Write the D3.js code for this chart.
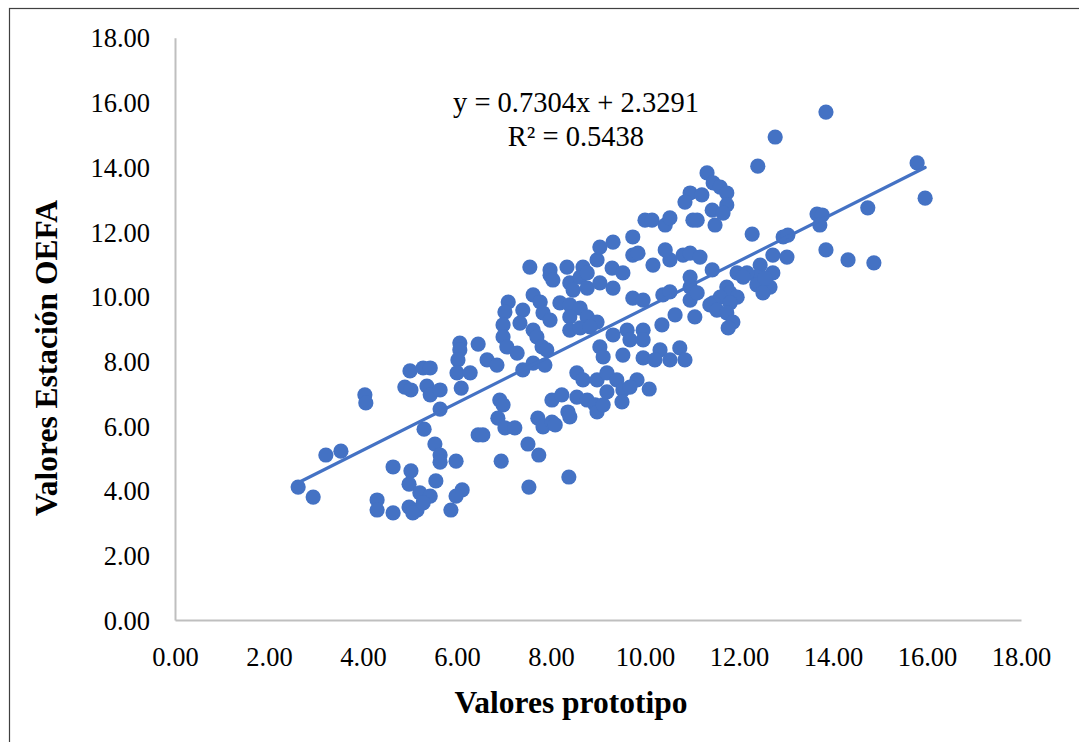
<!DOCTYPE html>
<html><head><meta charset="utf-8">
<script src="https://cdn.jsdelivr.net/npm/d3@7/dist/d3.min.js"></script>
<style>html,body{margin:0;padding:0;background:#fff;} svg{display:block;}</style>
</head><body>
<svg id="chart" width="1079" height="742"></svg>
<script>
const xTicks = [0,2,4,6,8,10,12,14,16,18];
const yTicks = [0,2,4,6,8,10,12,14,16,18];
const xTitle = "Valores prototipo";
const yTitle = "Valores Estación OEFA";
const eqLine1 = "y = 0.7304x + 2.3291";
const eqLine2 = "R² = 0.5438";
const slope = 0.7304, intercept = 2.3291;

const xs = [2.62,2.94,3.21,3.53,4.04,4.06,4.30,4.30,4.64,4.64,4.89,5.02,5.00,5.28,5.43,5.36,5.43,5.64,5.64,5.30,
5.53,5.64,5.64,5.98,5.02,4.98,5.55,5.21,5.43,4.98,5.15,5.06,5.28,6.11,5.98,5.87,6.06,6.06,6.02,6.00,
6.28,6.09,6.45,6.64,6.85,6.45,6.55,6.91,6.98,6.87,6.94,7.55,7.98,7.98,8.34,8.68,8.04,8.40,8.62,8.77,
8.47,8.77,9.04,9.32,8.98,9.04,9.30,9.53,9.32,9.74,9.85,9.74,9.96,7.09,7.02,7.62,7.77,7.40,7.83,8.19,
8.40,8.62,7.98,8.40,8.77,8.98,8.40,8.62,8.83,6.98,6.98,7.06,7.34,7.62,7.70,7.81,7.91,7.28,7.40,7.62,
7.87,9.32,9.62,9.68,9.96,9.96,9.04,9.11,9.53,9.96,8.55,8.68,8.98,9.19,9.40,9.83,7.02,7.23,7.51,7.74,
7.53,8.38,7.72,7.83,8.02,8.09,8.02,8.23,8.36,8.40,8.55,8.77,8.94,8.98,9.11,9.19,9.53,9.51,10.38,10.53,
10.96,10.96,10.96,11.06,10.64,10.36,10.32,10.53,10.74,10.85,10.09,9.68,10.17,10.53,10.43,10.81,10.96,11.17,11.32,12.40,
11.45,11.60,11.74,11.74,11.43,11.66,11.49,10.96,11.21,10.85,10.00,10.15,10.43,10.53,11.02,11.11,12.28,12.94,13.04,9.74,
11.43,12.72,13.02,11.96,12.45,12.38,12.72,12.17,11.74,11.81,11.60,11.45,11.96,12.38,12.66,12.51,11.11,15.79,15.96,14.74,
13.66,13.77,13.72,13.85,14.32,14.87,12.09,12.55,11.38,11.53,11.81,11.74,11.87,11.77,10.21,12.77,13.85];
const ys = [4.11,3.80,5.10,5.22,6.96,6.71,3.71,3.40,4.73,3.31,7.20,7.11,7.70,7.79,7.79,7.23,6.96,7.11,6.52,5.90,
5.44,5.10,4.88,4.91,4.61,4.20,4.30,3.93,3.83,3.49,3.40,3.31,3.62,4.02,3.83,3.40,8.56,8.35,8.04,7.64,
7.64,7.17,8.53,8.04,7.88,5.72,5.72,6.80,6.65,6.24,4.91,10.91,10.82,10.66,10.91,10.91,10.51,10.42,10.60,10.73,
10.20,10.26,10.42,10.26,11.13,11.53,10.88,10.73,11.68,11.28,11.34,9.95,9.89,9.83,9.52,10.05,9.83,9.58,9.49,9.80,
9.74,9.64,9.27,9.37,9.37,9.21,8.96,9.03,9.06,9.12,8.75,8.44,9.18,8.96,8.75,8.44,8.35,8.25,7.73,7.94,
7.88,8.81,8.96,8.66,8.96,8.66,8.44,8.13,8.19,8.10,7.64,7.42,7.42,7.64,7.42,7.42,5.94,5.94,5.44,5.10,
4.11,4.42,6.24,5.97,6.12,6.03,6.80,6.96,6.43,6.28,6.89,6.80,6.65,6.43,6.65,7.05,7.11,6.74,10.05,10.14,
10.60,10.29,9.89,9.37,9.43,9.12,8.35,8.04,8.41,8.04,7.14,7.20,10.97,11.13,11.44,11.28,11.34,11.22,13.82,14.03,
13.51,13.38,13.20,12.83,12.67,12.58,12.21,13.20,13.14,12.92,12.36,12.36,12.21,12.43,12.36,12.36,11.93,11.84,11.90,11.84,
10.82,11.28,11.22,10.73,10.97,10.60,10.73,10.73,10.29,10.11,9.98,9.80,9.98,10.36,10.29,10.11,10.11,14.13,13.04,12.74,
12.55,12.52,12.21,11.44,11.13,11.04,10.60,10.57,9.74,9.58,9.80,9.49,9.21,9.03,8.04,14.93,15.70];

const points = xs.map((x,i)=>({x, y: ys[i]}));
const svg = d3.select("#chart");
const W = 1079, H = 742;
const blue = "#4472C4";
const serif = "'Liberation Serif','Times New Roman',serif";

svg.append("rect").attr("x",0).attr("y",0).attr("width",W).attr("height",H).attr("fill","#fff");
// outer chart border (right/bottom edges fall outside the picture)
svg.append("rect").attr("x",9.5).attr("y",8.5).attr("width",W+20).attr("height",H+20)
  .attr("fill","none").attr("stroke","#404040").attr("stroke-width",1.2);

const x = d3.scaleLinear().domain([0,18]).range([175,1021]);
const y = d3.scaleLinear().domain([0,18]).range([620,37.7]);

// axes
const xAxis = d3.axisBottom(x).tickValues(xTicks).tickSize(0).tickPadding(0).tickFormat(d3.format(".2f"));
const yAxis = d3.axisLeft(y).tickValues(yTicks).tickSize(0).tickPadding(0).tickFormat(d3.format(".2f"));

const gx = svg.append("g").attr("transform",`translate(0,${y(0)})`).call(xAxis);
gx.select(".domain").attr("stroke","#bfbfbf").attr("stroke-width",2);
gx.selectAll("text").attr("font-family",serif).attr("font-size",26.5).attr("fill","#000")
  .attr("dy",null).attr("y",46);

const gy = svg.append("g").attr("transform",`translate(${x(0)},0)`).call(yAxis);
gy.select(".domain").attr("stroke","#bfbfbf").attr("stroke-width",2);
gy.selectAll("text").attr("font-family",serif).attr("font-size",26.5).attr("fill","#000")
  .attr("x",-25).attr("dy","0.35em");

// points
svg.append("g").selectAll("circle").data(points).join("circle")
  .attr("cx",d=>x(d.x)).attr("cy",d=>y(d.y)).attr("r",7.6)
  .attr("fill",blue);

// trendline
const xmin = d3.min(xs), xmax = d3.max(xs);
svg.append("line")
  .attr("x1",x(xmin)).attr("y1",y(slope*xmin+intercept))
  .attr("x2",x(xmax)).attr("y2",y(slope*xmax+intercept))
  .attr("stroke",blue).attr("stroke-width",3.2).attr("stroke-linecap","round");

// equation
svg.append("text").attr("x",576).attr("y",112).attr("text-anchor","middle")
  .attr("font-family",serif).attr("font-size",28.5).attr("fill","#000").text(eqLine1);
svg.append("text").attr("x",576).attr("y",146).attr("text-anchor","middle")
  .attr("font-family",serif).attr("font-size",28.5).attr("fill","#000").text(eqLine2);

// titles
svg.append("text").attr("x",571).attr("y",713).attr("text-anchor","middle")
  .attr("font-family",serif).attr("font-size",31.5).attr("font-weight","bold").attr("fill","#000").text(xTitle);
svg.append("text").attr("transform","translate(57,358) rotate(-90)").attr("text-anchor","middle")
  .attr("font-family",serif).attr("font-size",31.5).attr("font-weight","bold").attr("fill","#000").text(yTitle);
</script>
</body></html>
